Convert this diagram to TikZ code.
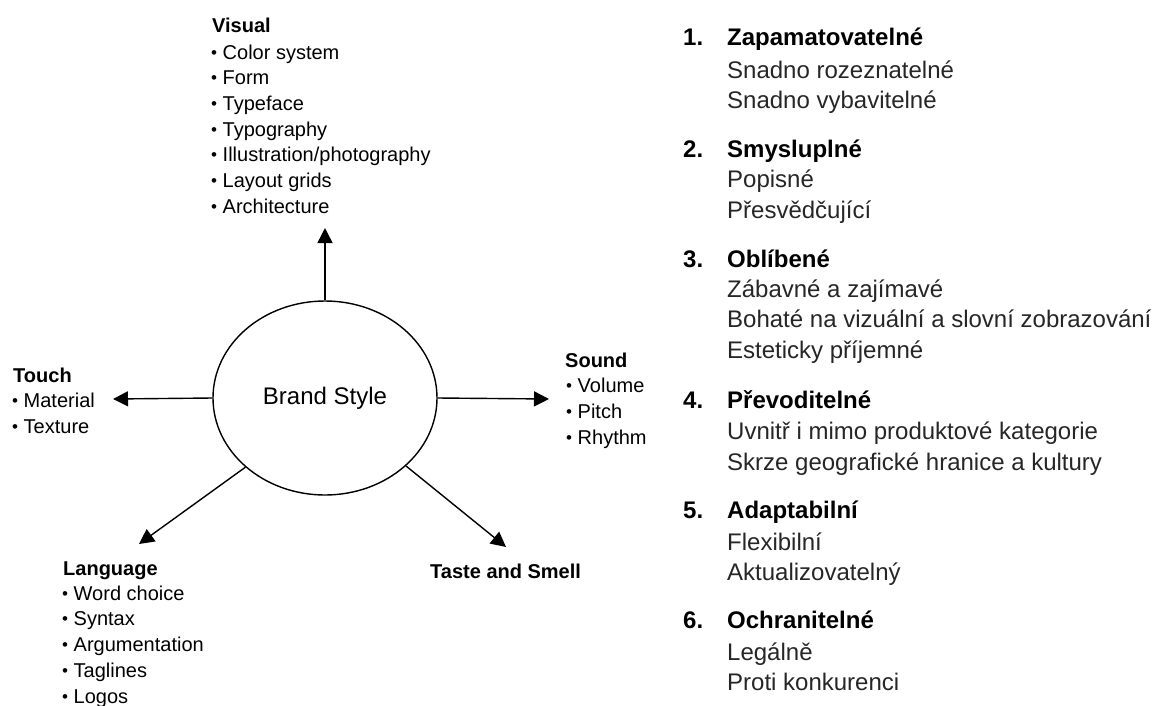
\documentclass[tikz,border=0pt]{standalone}
\usepackage{fontspec}
\setmainfont{Liberation Sans}
\usetikzlibrary{arrows.meta,shapes.geometric}
\newcommand{\bul}{{\fontsize{17}{17}\selectfont\raisebox{1pt}{\textbullet}}\ }
\begin{document}
\begin{tikzpicture}[x=1pt,y=-1pt,
  txt/.style={anchor=base west, inner sep=0pt, font=\fontsize{20}{24}\selectfont},
  hd/.style={anchor=base west, inner sep=0pt, font=\fontsize{20}{24}\selectfont\bfseries},
  rtxt/.style={anchor=base west, inner sep=0pt, font=\fontsize{24}{28}\selectfont, text=black!85},
  rhd/.style={anchor=base west, inner sep=0pt, font=\fontsize{24}{28}\selectfont\bfseries},
  arr/.style={line width=1.4pt, -{Triangle[length=15pt,width=15pt]}},
]
\useasboundingbox (0,0) rectangle (1152,705);
\node[ellipse, draw, line width=1.4pt, minimum width=224pt, minimum height=194pt, inner sep=0pt, font=\fontsize{24}{28}\selectfont] (brand) at (325,398) {Brand Style};

% arrows
\coordinate (visTip) at (325,228);
\coordinate (touchTip) at (113,399);
\coordinate (soundTip) at (549,399);
\coordinate (langTip) at (139,544);
\coordinate (tasteTip) at (506,547);
\draw[arr] (brand.north) -- (visTip);
\draw[arr] (brand.west) -- (touchTip);
\draw[arr] (brand.east) -- (soundTip);
\draw[arr] (brand.221) -- (langTip);
\draw[arr] (brand.-40) -- (tasteTip);

% Visual
\node[hd] (visual) at (212,32) {Visual};
\foreach \t [count=\i] in {Color system,Form,Typeface,Typography,Illustration/photography,Layout grids,Architecture}
  \node[txt] (vis\i) at (211,{59+25.7*(\i-1)}) {\bul\t};

% Touch
\node[hd] (touch) at (13,382) {Touch};
\node[txt] (touch1) at (12,407) {\bul Material};
\node[txt] (touch2) at (12,433) {\bul Texture};

% Sound
\node[hd] (sound) at (565,367) {Sound};
\foreach \t [count=\i] in {Volume,Pitch,Rhythm}
  \node[txt] (sound\i) at (566,{392+26*(\i-1)}) {\bul\t};

% Language
\node[hd] (language) at (63,575) {Language};
\foreach \t [count=\i] in {Word choice,Syntax,Argumentation,Taglines,Logos}
  \node[txt] (lang\i) at (62,{600+25.8*(\i-1)}) {\bul\t};

% Taste and Smell
\node[hd] (taste) at (430,578) {Taste and Smell};

% Right list
\node[rhd] (n1) at (683,45) {1.};
\node[rhd] (h1) at (727,45) {Zapamatovatelné};
\node[rtxt] (s11) at (727,78) {Snadno rozeznatelné};
\node[rtxt] (s12) at (727,108) {Snadno vybavitelné};

\node[rhd] (n2) at (683,157) {2.};
\node[rhd] (h2) at (727,157) {Smysluplné};
\node[rtxt] (s21) at (727,187) {Popisné};
\node[rtxt] (s22) at (727,218) {Přesvědčující};

\node[rhd] (n3) at (683,267) {3.};
\node[rhd] (h3) at (727,267) {Oblíbené};
\node[rtxt] (s31) at (727,297) {Zábavné a zajímavé};
\node[rtxt] (s32) at (727,327) {Bohaté na vizuální a slovní zobrazování};
\node[rtxt] (s33) at (727,358) {Esteticky příjemné};

\node[rhd] (n4) at (683,408) {4.};
\node[rhd] (h4) at (727,408) {Převoditelné};
\node[rtxt] (s41) at (727,439) {Uvnitř i mimo produktové kategorie};
\node[rtxt] (s42) at (727,470) {Skrze geografické hranice a kultury};

\node[rhd] (n5) at (683,518) {5.};
\node[rhd] (h5) at (727,518) {Adaptabilní};
\node[rtxt] (s51) at (727,550) {Flexibilní};
\node[rtxt] (s52) at (727,580) {Aktualizovatelný};

\node[rhd] (n6) at (683,628) {6.};
\node[rhd] (h6) at (727,628) {Ochranitelné};
\node[rtxt] (s61) at (727,660) {Legálně};
\node[rtxt] (s62) at (727,690) {Proti konkurenci};
\end{tikzpicture}
\end{document}
